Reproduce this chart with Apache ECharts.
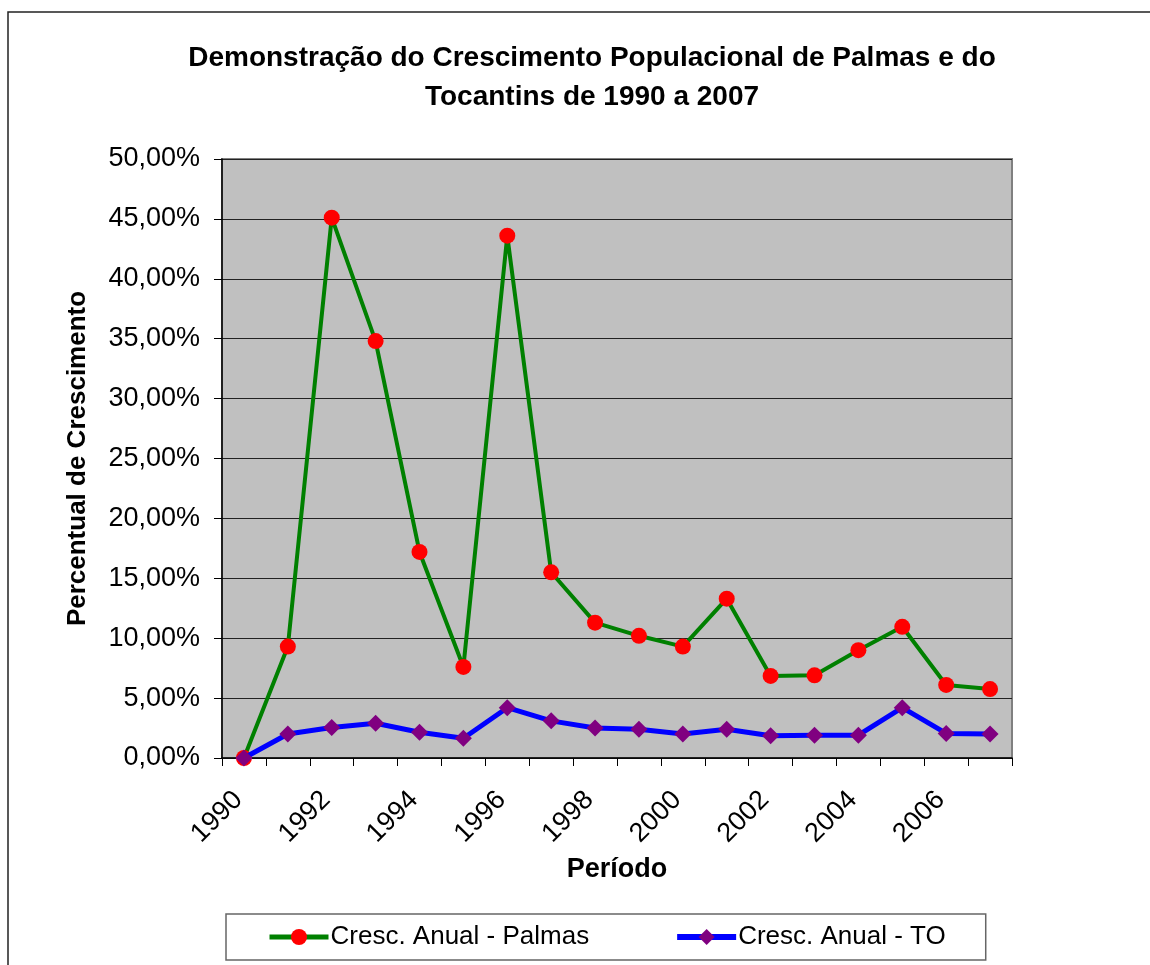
<!DOCTYPE html>
<html>
<head>
<meta charset="utf-8">
<title>Crescimento Populacional Palmas e Tocantins</title>
<script src="https://cdn.jsdelivr.net/npm/echarts@6/dist/echarts.min.js"></script>
<style>
  html, body { margin: 0; padding: 0; background: #fff; }
  #chart { width: 1150px; height: 965px; }
</style>
</head>
<body>
<div id="chart"></div>
<script>
// anos (eixo X)
var anos = ['1990', '1991', '1992', '1993', '1994', '1995', '1996', '1997', '1998',
            '1999', '2000', '2001', '2002', '2003', '2004', '2005', '2006', '2007'];
// crescimento anual de Palmas (%)
var palmas = [0, 9.3, 45.1, 34.8, 17.2, 7.6, 43.6, 15.5, 11.3,
              10.2, 9.3, 13.3, 6.85, 6.9, 9.0, 10.95, 6.1, 5.75];
// crescimento anual do Tocantins (%)
var tocantins = [0, 2.0, 2.55, 2.9, 2.15, 1.65, 4.2, 3.1, 2.5,
                 2.4, 2.0, 2.4, 1.85, 1.9, 1.9, 4.2, 2.05, 2.0];
// eixo Y
var yMin = 0, yMax = 50, yStep = 5;

var fonte = '"Liberation Sans", Arial, sans-serif';
var myChart = echarts.init(document.getElementById('chart'));

myChart.setOption({
  animation: false,
  backgroundColor: '#fff',
  textStyle: { fontFamily: fonte, color: '#000' },
  title: {
    text: 'Demonstração do Crescimento Populacional de Palmas e do\nTocantins de 1990 a 2007',
    left: 587,
    textAlign: 'center',
    top: 34,
    textStyle: { fontFamily: fonte, fontSize: 28, fontWeight: 'bold', color: '#000', lineHeight: 39 }
  },
  graphic: [
    // moldura externa do gráfico
    { type: 'rect', shape: { x: 8, y: 12, width: 1300, height: 1100 },
      style: { fill: null, stroke: '#222', lineWidth: 1.5 }, z: 0 }
  ],
  grid: {
    left: 222, top: 159, right: 138, bottom: 207,
    show: true, backgroundColor: '#c0c0c0', borderColor: '#808080', borderWidth: 2
  },
  legend: {
    left: 226, top: 914, width: 765, height: 47,
    padding: [10, 40, 10, 41],
    borderColor: '#666', borderWidth: 1.5, backgroundColor: '#fff',
    itemWidth: 59, itemHeight: 20, itemGap: 85,
    textStyle: { fontFamily: fonte, fontSize: 26, color: '#000', padding: [0, 0, 0, -3] },
    data: [
      { name: 'Cresc. Anual - Palmas', lineStyle: { width: 5 } },
      { name: 'Cresc. Anual - TO', lineStyle: { width: 6 } }
    ]
  },
  xAxis: {
    type: 'category',
    data: anos,
    boundaryGap: true,
    name: 'Período',
    nameLocation: 'middle',
    nameGap: 98,
    nameTextStyle: { fontFamily: fonte, fontSize: 27, fontWeight: 'bold', color: '#000' },
    axisLine: { show: true, onZero: false, lineStyle: { color: '#000', width: 1.5 } },
    axisTick: { show: true, interval: 0, length: 8, lineStyle: { color: '#000' } },
    axisLabel: {
      interval: 1, rotate: 45, margin: 32, fontSize: 27, color: '#000', fontFamily: fonte,
      padding: [0, 8, 0, 0]
    },
    splitLine: { show: false }
  },
  yAxis: {
    type: 'value',
    min: yMin, max: yMax, interval: yStep,
    name: 'Percentual de Crescimento',
    nameLocation: 'middle',
    nameRotate: 90,
    nameGap: 131,
    nameTextStyle: { fontFamily: fonte, fontSize: 26, fontWeight: 'bold', color: '#000' },
    axisLine: { show: true, lineStyle: { color: '#000', width: 1.5 } },
    axisTick: { show: true, length: 8, lineStyle: { color: '#000' } },
    axisLabel: {
      margin: 22, fontSize: 27, color: '#000', fontFamily: fonte,
      formatter: function (v) { return v.toFixed(2).replace('.', ',') + '%'; }
    },
    splitLine: { show: true, lineStyle: { color: '#222', width: 1 } }
  },
  series: [
    {
      name: 'Cresc. Anual - Palmas',
      type: 'line',
      data: palmas,
      symbol: 'circle',
      symbolSize: 16,
      itemStyle: { color: '#ff0000' },
      lineStyle: { color: '#008000', width: 4 },
      z: 2
    },
    {
      name: 'Cresc. Anual - TO',
      type: 'line',
      data: tocantins,
      symbol: 'path://M0,-1L1,0L0,1L-1,0Z',
      symbolSize: 17,
      itemStyle: { color: '#800080' },
      lineStyle: { color: '#0000ff', width: 5 },
      z: 3
    }
  ]
});
</script>
</body>
</html>
